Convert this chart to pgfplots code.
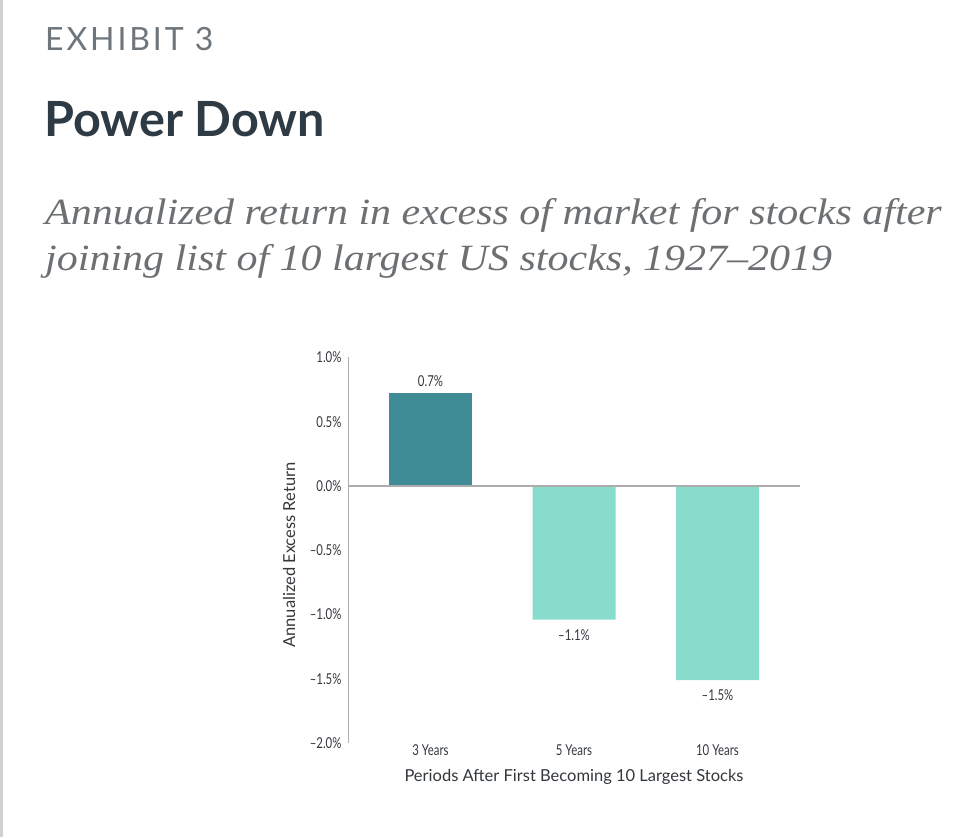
\documentclass[border=0pt]{standalone}
\usepackage{fontspec}
\setmainfont{Lato}
\newfontfamily\condfont[FakeStretch=0.76]{Lato}
\newfontfamily\subfont[FakeStretch=1.135]{Liberation Serif}
\newfontfamily\headfont[LetterSpace=9]{Lato}
\usepackage{pgfplots}
\pgfplotsset{compat=1.18}
\definecolor{darkteal}{HTML}{3F8C96}
\definecolor{mint}{HTML}{88DCCB}
\definecolor{axisgray}{HTML}{ADADAD}
\definecolor{txtgray}{HTML}{33383D}
\definecolor{exgray}{HTML}{6E757B}
\definecolor{titlecol}{HTML}{2E3A44}
\definecolor{subcol}{HTML}{6D7073}
\begin{document}
\begin{tikzpicture}
\fill[white] (0pt,0pt) rectangle (976pt,837pt);
\fill[black!18] (0pt,0pt) rectangle (2.5pt,837pt);
\path[use as bounding box] (0pt,0pt) rectangle (976pt,837pt);
% titles
\node[anchor=base west, inner sep=0pt, text=exgray, font=\headfont\fontsize{32}{36}\selectfont] at (45pt,786pt) {EXHIBIT 3};
\node[anchor=base west, inner sep=0pt, text=titlecol, font=\bfseries\fontsize{48.5}{52}\selectfont] at (44pt,700pt) {Power Down};
\node[anchor=base west, inner sep=0pt, text=subcol, font=\subfont\itshape\fontsize{37}{46}\selectfont] at (45pt,612pt) {Annualized return in excess of market for stocks after};
\node[anchor=base west, inner sep=0pt, text=subcol, font=\subfont\itshape\fontsize{37}{46}\selectfont] at (45pt,566pt) {joining list of 10 largest US stocks, 1927–2019};
\begin{axis}[
  at={(348pt,94pt)}, anchor=south west,
  scale only axis, width=452pt, height=385.5pt,
  xmin=-0.575, xmax=2.575, ymin=-2.0, ymax=1.0,
  axis x line=none,
  axis y line=left,
  y axis line style={draw=axisgray, line width=1pt, -},
  major tick length=0pt,
  ytick={-2,-1.5,-1,-0.5,0,0.5,1},
  yticklabels={–2.0\%,–1.5\%,–1.0\%,–0.5\%,0.0\%,0.5\%,1.0\%},
  yticklabel style={font=\condfont\fontsize{15}{17}\selectfont, text=txtgray, anchor=east, xshift=-3pt},
  clip=false,
  point meta=explicit symbolic,
  nodes near coords,
  every node near coord/.append style={font=\condfont\fontsize{15}{17}\selectfont, text=txtgray},
]
\addplot[ybar, bar width=83pt, bar shift=0pt, fill=darkteal, draw=none,
  every node near coord/.append style={anchor=south, yshift=3pt}]
  coordinates {(0,0.72) [0.7\%]};
\addplot[ybar, bar width=83pt, bar shift=0pt, fill=mint, draw=none,
  every node near coord/.append style={anchor=north, yshift=-6pt}]
  coordinates {(1,-1.04) [–1.1\%] (2,-1.51) [–1.5\%]};
\draw[axisgray, line width=1.2pt] (axis cs:-0.575,0) -- (axis cs:2.575,0);
\node[font=\condfont\fontsize{15}{17}\selectfont, text=txtgray] at (axis cs:0,-2.055) {3 Years};
\node[font=\condfont\fontsize{15}{17}\selectfont, text=txtgray] at (axis cs:1,-2.055) {5 Years};
\node[font=\condfont\fontsize{15}{17}\selectfont, text=txtgray] at (axis cs:2,-2.055) {10 Years};
\end{axis}
\node[rotate=90, text=txtgray, font=\fontsize{16.5}{19}\selectfont] at (289pt,282pt) {Annualized Excess Return};
\node[text=txtgray, font=\fontsize{16.5}{19}\selectfont] at (574pt,60pt) {Periods After First Becoming 10 Largest Stocks};
\end{tikzpicture}
\end{document}
